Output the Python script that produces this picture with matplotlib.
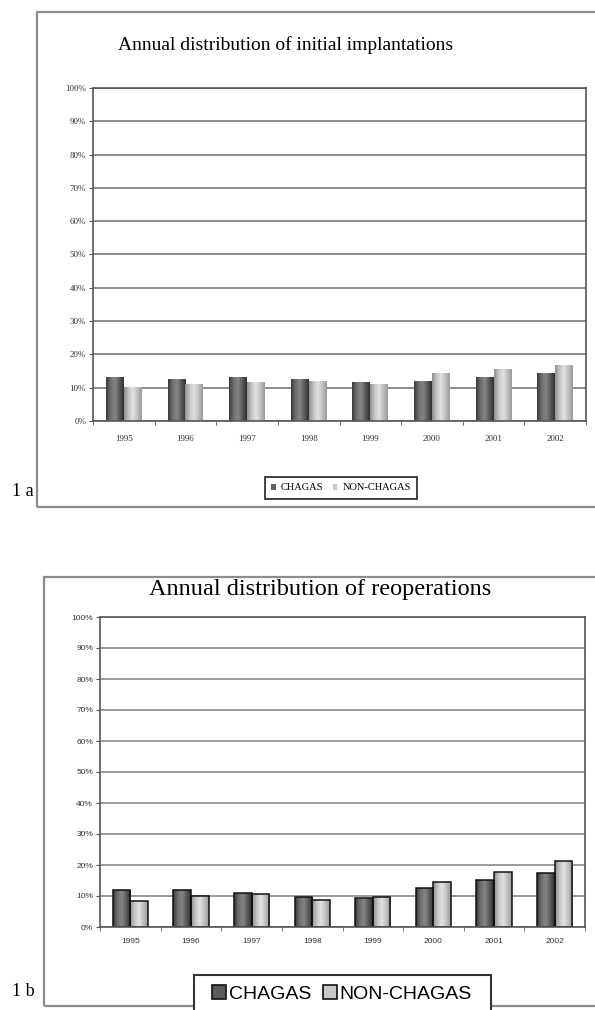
import matplotlib
matplotlib.use("Agg")
import matplotlib.pyplot as plt
import numpy as np
from matplotlib.colors import LinearSegmentedColormap
from matplotlib.patches import Rectangle

YEARS = ["1995", "1996", "1997", "1998", "1999", "2000", "2001", "2002"]

# share of initial implantations per year (%)
IMPLANT_CHAGAS = [13.1, 12.6, 13.1, 12.6, 11.6, 12.1, 13.1, 14.3]
IMPLANT_NON_CHAGAS = [10.1, 11.0, 11.6, 12.1, 11.0, 14.3, 15.6, 16.8]

# share of reoperations per year (%)
REOP_CHAGAS = [11.9, 11.9, 11.1, 9.8, 9.2, 12.6, 15.3, 17.3]
REOP_NON_CHAGAS = [8.3, 9.9, 10.5, 8.7, 9.8, 14.6, 17.8, 21.3]

SERIES_LABELS = ["CHAGAS", "NON-CHAGAS"]
Y_TICKS = list(range(0, 101, 10))

W, H = 595, 1010
SERIF = "Liberation Serif"
SANS = "Liberation Sans"

DARK_CMAP = LinearSegmentedColormap.from_list(
    "dark_bar", ["#3a3a3a", "#6e6e6e", "#858585", "#5a5a5a", "#303030"])
LIGHT_CMAP = LinearSegmentedColormap.from_list(
    "light_bar", ["#8f8f8f", "#c4c4c4", "#e2e2e2", "#c0c0c0", "#9a9a9a"])


def fx(px):
    return px / W


def fy(py):
    return 1 - py / H


def shade(ax, bars, cmap):
    # horizontal gradient inside each bar, clipped to the bar outline
    grad = np.linspace(0, 1, 64).reshape(1, -1)
    for b in bars:
        x0, w, h = b.get_x(), b.get_width(), b.get_height()
        im = ax.imshow(grad, cmap=cmap, extent=(x0, x0 + w, 0, h),
                       aspect="auto", zorder=2.1, interpolation="bilinear")
        im.set_clip_path(b)


def bar_panel(ax, chagas, non_chagas, edge, tick_font, tick_size, grid_color, xpad):
    x = np.arange(len(YEARS))
    width = 0.29
    b1 = ax.bar(x - width / 2, chagas, width, color="#606060", zorder=2)
    b2 = ax.bar(x + width / 2, non_chagas, width, color="#c8c8c8", zorder=2)
    shade(ax, b1, DARK_CMAP)
    shade(ax, b2, LIGHT_CMAP)
    if edge:
        ax.bar(x - width / 2, chagas, width, fill=False, edgecolor="#111111",
               linewidth=1.1, zorder=2.2)
        ax.bar(x + width / 2, non_chagas, width, fill=False, edgecolor="#111111",
               linewidth=1.1, zorder=2.2)

    ax.set_xlim(-0.5, len(YEARS) - 0.5)
    ax.set_ylim(0, 100)
    ax.set_yticks(Y_TICKS)
    ax.set_yticklabels([f"{v}%" for v in Y_TICKS], family=tick_font, fontsize=tick_size)
    ax.set_xticks(x)
    ax.set_xticklabels(YEARS, family=tick_font, fontsize=tick_size)
    ax.set_xticks(np.arange(-0.5, len(YEARS), 1), minor=True)
    ax.tick_params(axis="x", which="major", length=0, pad=xpad, colors="#333333")
    ax.tick_params(axis="x", which="minor", length=3, direction="out", color="#555555")
    ax.tick_params(axis="y", length=3, direction="out", pad=2, colors="#333333",
                   color="#555555")
    ax.yaxis.grid(True, color=grid_color, linewidth=1.2)
    ax.set_axisbelow(True)
    for s in ax.spines.values():
        s.set_color("#555555")
        s.set_linewidth(1.2)
    return b1, b2


fig = plt.figure(figsize=(W / 100, H / 100), dpi=100)

# outer frames around each panel
fig.patches.append(Rectangle((fx(37), fy(507)), fx(700), (507 - 12) / H,
                             transform=fig.transFigure, fill=False,
                             edgecolor="#8c8c8c", linewidth=1.6, zorder=-2))
fig.patches.append(Rectangle((fx(44), fy(1006)), fx(700), (1006 - 577) / H,
                             transform=fig.transFigure, fill=False,
                             edgecolor="#8c8c8c", linewidth=1.6, zorder=-2))

# panel 1a: initial implantations
ax1 = fig.add_axes([fx(93), fy(421), (586 - 93) / W, (421 - 88) / H])
h1 = bar_panel(ax1, IMPLANT_CHAGAS, IMPLANT_NON_CHAGAS, edge=False,
               tick_font=SERIF, tick_size=6.5, grid_color="#7a7a7a", xpad=10)
fig.text(fx(286), fy(45), "Annual distribution of initial implantations",
         ha="center", va="center", family=SERIF, fontsize=14)
leg1 = fig.legend([h1[0][0], h1[1][0]], SERIES_LABELS, loc="center",
                  bbox_to_anchor=(fx(341), fy(488)), bbox_transform=fig.transFigure,
                  ncol=2, prop={"family": SERIF, "size": 7.5},
                  handlelength=0.45, handleheight=0.45, handletextpad=0.5,
                  columnspacing=0.9, borderpad=0.6, fancybox=False,
                  edgecolor="#333333", framealpha=1)
leg1.get_frame().set_linewidth(1.3)
fig.text(fx(12), fy(496), "1 a", family=SERIF, fontsize=13, va="baseline")

# panel 1b: reoperations
ax2 = fig.add_axes([fx(100), fy(927), (585 - 100) / W, (927 - 617) / H])
h2 = bar_panel(ax2, REOP_CHAGAS, REOP_NON_CHAGAS, edge=True,
               tick_font=SANS, tick_size=6, grid_color="#8a8a8a", xpad=8)
fig.text(fx(320), fy(589), "Annual distribution of reoperations",
         ha="center", va="center", family=SERIF, fontsize=17.5)
fig.patches.append(Rectangle((fx(194), fy(1030)), (491 - 194) / W, (1030 - 975) / H,
                             transform=fig.transFigure, facecolor="white",
                             edgecolor="#333333", linewidth=1.5, zorder=-1))
handles = [Rectangle((0, 0), 1, 1, facecolor="#5a5a5a", edgecolor="#111111", linewidth=1.2),
           Rectangle((0, 0), 1, 1, facecolor="#c8c8c8", edgecolor="#111111", linewidth=1.2)]
fig.legend(handles, SERIES_LABELS, loc="center", bbox_to_anchor=(fx(342), fy(994)),
           bbox_transform=fig.transFigure, ncol=2, frameon=False,
           prop={"family": SANS, "size": 14}, handlelength=0.7, handleheight=0.7,
           handletextpad=0.15, columnspacing=0.6)
fig.text(fx(12), fy(996), "1 b", family=SERIF, fontsize=13, va="baseline")

fig.savefig("out.png", dpi=100)
